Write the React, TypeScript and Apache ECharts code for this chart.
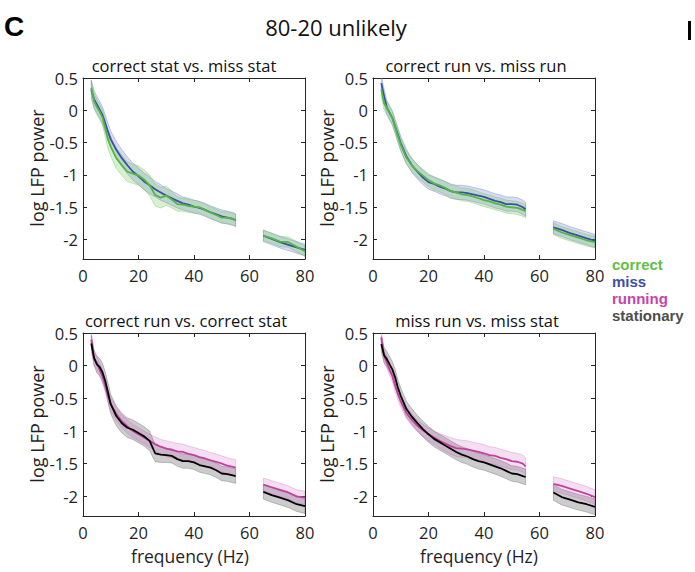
import React, { useEffect, useRef } from "react";
import * as echarts from "echarts";

// ---------- data ----------
const FREQ = [3,4,5,6,7,8,9,10,12,14,16,18,20,22,24,26,28,30,32,34,36,38,40,42,44,46,48,50,52,54,55, 65,68,71,74,77,80];
const X_TICKS = [0, 20, 40, 60, 80];
const Y_TICKS = [-2, -1.5, -1, -0.5, 0, 0.5];

// top-left: correct stat vs. miss stat
const TL_MISS = [0.32,0.17,0.09,0.01,-0.07,-0.2,-0.33,-0.45,-0.61,-0.74,-0.85,-0.95,-1.02,-1.10,-1.16,-1.22,-1.27,-1.32,-1.36,-1.40,-1.44,-1.46,-1.49,-1.51,-1.54,-1.58,-1.61,-1.64,-1.66,-1.68,-1.70, -1.94,-1.99,-2.04,-2.08,-2.12,-2.16];
const TL_MISS_SEM = [0.14,0.13,0.13,0.13,0.13,0.13,0.13,0.13,0.13,0.13,0.13,0.13,0.13,0.13,0.13,0.12,0.12,0.11,0.11,0.11,0.10,0.10,0.10,0.10,0.10,0.10,0.10,0.10,0.10,0.10,0.10, 0.09,0.09,0.09,0.09,0.09,0.09];
const TL_CORRECT = [0.35,0.14,0.05,-0.02,-0.11,-0.27,-0.45,-0.56,-0.74,-0.85,-0.95,-0.98,-1.01,-1.07,-1.16,-1.31,-1.35,-1.32,-1.38,-1.45,-1.46,-1.48,-1.49,-1.50,-1.54,-1.58,-1.62,-1.66,-1.66,-1.68,-1.70, -1.94,-1.98,-2.03,-2.04,-2.11,-2.18];
const TL_CORRECT_SEM = [0.12,0.12,0.12,0.12,0.12,0.13,0.14,0.15,0.16,0.16,0.15,0.15,0.15,0.15,0.16,0.17,0.16,0.15,0.13,0.11,0.10,0.10,0.10,0.09,0.09,0.09,0.09,0.09,0.09,0.09,0.09, 0.08,0.08,0.08,0.08,0.08,0.08];

// top-right: correct run vs. miss run
const TR_MISS = [0.42,0.22,0.04,-0.04,-0.12,-0.25,-0.38,-0.51,-0.71,-0.85,-0.95,-1.04,-1.11,-1.14,-1.18,-1.21,-1.25,-1.27,-1.27,-1.28,-1.30,-1.32,-1.34,-1.37,-1.40,-1.42,-1.45,-1.45,-1.46,-1.50,-1.53, -1.81,-1.85,-1.90,-1.94,-1.98,-2.02];
const TR_MISS_SEM = [0.11,0.11,0.11,0.11,0.11,0.11,0.11,0.11,0.11,0.11,0.11,0.11,0.11,0.11,0.11,0.11,0.11,0.11,0.11,0.11,0.11,0.11,0.11,0.11,0.11,0.11,0.11,0.11,0.11,0.11,0.11, 0.10,0.10,0.10,0.10,0.10,0.10];
const TR_CORRECT = [0.32,0.11,0.04,-0.04,-0.12,-0.26,-0.40,-0.53,-0.73,-0.85,-0.94,-1.01,-1.08,-1.13,-1.16,-1.20,-1.25,-1.27,-1.30,-1.31,-1.33,-1.36,-1.39,-1.41,-1.44,-1.46,-1.49,-1.50,-1.51,-1.54,-1.56, -1.83,-1.89,-1.93,-1.97,-2.01,-2.04];
const TR_CORRECT_SEM = [0.10,0.10,0.10,0.10,0.10,0.10,0.10,0.10,0.10,0.10,0.10,0.10,0.10,0.10,0.10,0.10,0.10,0.10,0.10,0.10,0.10,0.10,0.10,0.10,0.10,0.10,0.10,0.10,0.10,0.10,0.10, 0.09,0.09,0.09,0.09,0.09,0.09];

// bottom-left: correct run vs. correct stat
const BL_STAT = [0.34,0.12,0.02,-0.02,-0.10,-0.23,-0.41,-0.59,-0.77,-0.88,-0.95,-0.98,-1.03,-1.08,-1.15,-1.34,-1.36,-1.37,-1.38,-1.43,-1.46,-1.46,-1.48,-1.52,-1.54,-1.56,-1.60,-1.65,-1.66,-1.68,-1.69, -1.93,-1.98,-2.02,-2.06,-2.12,-2.15];
const BL_STAT_SEM = [0.12,0.12,0.13,0.13,0.14,0.14,0.15,0.15,0.15,0.15,0.15,0.15,0.15,0.15,0.15,0.13,0.12,0.11,0.11,0.11,0.11,0.11,0.11,0.11,0.11,0.11,0.11,0.11,0.11,0.11,0.11, 0.11,0.11,0.11,0.11,0.11,0.11];
const BL_RUN = [0.40,0.10,0.04,-0.06,-0.16,-0.30,-0.46,-0.59,-0.74,-0.85,-0.93,-1.00,-1.05,-1.10,-1.15,-1.20,-1.24,-1.27,-1.29,-1.31,-1.32,-1.35,-1.37,-1.40,-1.42,-1.45,-1.47,-1.50,-1.53,-1.55,-1.56, -1.82,-1.86,-1.90,-1.94,-2.00,-2.02];
const BL_RUN_SEM = [0.10,0.10,0.10,0.10,0.10,0.10,0.10,0.10,0.10,0.10,0.10,0.10,0.10,0.10,0.10,0.11,0.11,0.12,0.12,0.12,0.12,0.12,0.12,0.12,0.12,0.12,0.12,0.12,0.12,0.12,0.12, 0.10,0.10,0.10,0.10,0.10,0.10];

// bottom-right: miss run vs. miss stat
const BR_STAT = [0.33,0.16,0.10,0.02,-0.06,-0.18,-0.34,-0.46,-0.66,-0.78,-0.88,-0.97,-1.05,-1.12,-1.17,-1.22,-1.27,-1.32,-1.36,-1.39,-1.43,-1.46,-1.48,-1.51,-1.54,-1.57,-1.61,-1.65,-1.66,-1.69,-1.70, -1.94,-2.01,-2.05,-2.09,-2.12,-2.16];
const BR_STAT_SEM = [0.12,0.12,0.12,0.12,0.12,0.12,0.12,0.12,0.12,0.12,0.12,0.12,0.12,0.12,0.12,0.12,0.12,0.12,0.12,0.12,0.12,0.12,0.12,0.12,0.12,0.12,0.12,0.12,0.12,0.12,0.12, 0.12,0.12,0.12,0.12,0.12,0.12];
const BR_RUN = [0.43,0.15,0.05,-0.06,-0.16,-0.31,-0.44,-0.54,-0.72,-0.83,-0.92,-0.99,-1.05,-1.10,-1.15,-1.19,-1.23,-1.26,-1.27,-1.28,-1.30,-1.32,-1.34,-1.37,-1.38,-1.41,-1.43,-1.46,-1.47,-1.50,-1.54, -1.81,-1.84,-1.88,-1.92,-1.96,-2.01];
const BR_RUN_SEM = [0.09,0.09,0.09,0.09,0.09,0.09,0.09,0.09,0.09,0.09,0.09,0.09,0.10,0.10,0.11,0.12,0.13,0.13,0.13,0.13,0.13,0.13,0.13,0.13,0.13,0.13,0.13,0.13,0.13,0.13,0.13, 0.11,0.11,0.11,0.11,0.11,0.11];

const PANEL_TITLES = ["correct stat vs. miss stat", "correct run vs. miss run", "correct run vs. correct stat", "miss run vs. miss stat"];
const LEGEND_LABELS = ["correct", "miss", "running", "stationary"];

// ---------- styles ----------
const COL = {
  correct: { line: "#4fb83f", fill: "rgba(110,195,80,0.26)", edge: "rgba(110,195,80,0.55)" },
  miss: { line: "#3a4fa6", fill: "rgba(95,105,215,0.24)", edge: "rgba(95,105,215,0.5)" },
  running: { line: "#c2409f", fill: "rgba(200,95,190,0.2)", edge: "rgba(200,95,190,0.45)" },
  stationary: { line: "#000000", fill: "rgba(0,0,0,0.2)", edge: "rgba(0,0,0,0.3)" },
};
const LEGEND_COLORS = ["#62bf43", "#3c4fa8", "#c545a6", "#4d4d4d"];
const FONT = "Open Sans";
const TXT = "#1f1f1f";

const GRIDS = [
  { left: 83, top: 78, width: 222, height: 181 },
  { left: 373, top: 78, width: 222, height: 181 },
  { left: 83, top: 333, width: 222, height: 183 },
  { left: 373, top: 333, width: 222, height: 183 },
];

function segments(): number[][] {
  const segs: number[][] = [];
  let s = 0;
  for (let i = 0; i < FREQ.length - 1; i++) {
    if (FREQ[i + 1] - FREQ[i] > 5) { segs.push([s, i]); s = i + 1; }
  }
  segs.push([s, FREQ.length - 1]);
  return segs;
}
const SEGS = segments();

function lineData(mean: number[]) {
  const out: any[] = [];
  SEGS.forEach((seg, k) => {
    for (let i = seg[0]; i <= seg[1]; i++) out.push([FREQ[i], mean[i]]);
    if (k < SEGS.length - 1) out.push([(FREQ[seg[1]] + FREQ[seg[1] + 1]) / 2, "-"]);
  });
  return out;
}

function bandSeries(idx: number, mean: number[], sem: number[], c: any) {
  return {
    type: "custom",
    xAxisIndex: idx * 2,
    yAxisIndex: idx * 2,
    clip: true,
    silent: true,
    data: SEGS.map((s) => [FREQ[s[0]], mean[s[0]]]),
    renderItem: (params: any, api: any) => {
      const seg = SEGS[params.dataIndex];
      const up: number[][] = [];
      const lo: number[][] = [];
      for (let i = seg[0]; i <= seg[1]; i++) {
        up.push(api.coord([FREQ[i], mean[i] + sem[i]]));
        lo.push(api.coord([FREQ[i], mean[i] - sem[i]]));
      }
      return {
        type: "polygon",
        shape: { points: up.concat(lo.reverse()) },
        style: { fill: c.fill, stroke: c.edge, lineWidth: 0.7 },
      };
    },
  };
}

function lineSeries(idx: number, mean: number[], c: any) {
  return {
    type: "line",
    xAxisIndex: idx * 2,
    yAxisIndex: idx * 2,
    data: lineData(mean),
    showSymbol: false,
    connectNulls: false,
    lineStyle: { color: c.line, width: 1.8 },
    silent: true,
  };
}

export default function App() {
  const ref = useRef<HTMLDivElement>(null);
  useEffect(() => {
    if (!ref.current) return;
    const chart = echarts.init(ref.current, null, { renderer: "svg" });
    const xAxes: any[] = [];
    const yAxes: any[] = [];
    GRIDS.forEach((_, i) => {
      const common = {
        gridIndex: i,
        type: "value",
        splitLine: { show: false },
        axisLine: { show: true, onZero: false, lineStyle: { color: "#262626", width: 1 } },
      };
      xAxes.push({
        ...common, position: "bottom", min: 0, max: 80,
        axisTick: { show: true, inside: true, length: 4, customValues: X_TICKS, lineStyle: { color: "#262626" } },
        axisLabel: { show: true, customValues: X_TICKS, margin: 8, fontSize: 16.5, lineHeight: 16, color: TXT, fontFamily: FONT },
      });
      xAxes.push({
        ...common, position: "top", min: 0, max: 80,
        axisTick: { show: true, inside: true, length: 4, customValues: X_TICKS, lineStyle: { color: "#262626" } },
        axisLabel: { show: false },
      });
      yAxes.push({
        ...common, position: "left", min: -2.3, max: 0.5,
        axisTick: { show: true, inside: true, length: 4, customValues: Y_TICKS, lineStyle: { color: "#262626" } },
        axisLabel: { show: true, customValues: Y_TICKS, margin: 5, fontSize: 16.5, color: TXT, fontFamily: FONT },
      });
      yAxes.push({
        ...common, position: "right", min: -2.3, max: 0.5,
        axisTick: { show: true, inside: true, length: 4, customValues: Y_TICKS, lineStyle: { color: "#262626" } },
        axisLabel: { show: false },
      });
    });

    const series: any[] = [
      bandSeries(0, TL_MISS, TL_MISS_SEM, COL.miss),
      bandSeries(0, TL_CORRECT, TL_CORRECT_SEM, COL.correct),
      lineSeries(0, TL_MISS, COL.miss),
      lineSeries(0, TL_CORRECT, COL.correct),
      bandSeries(1, TR_MISS, TR_MISS_SEM, COL.miss),
      bandSeries(1, TR_CORRECT, TR_CORRECT_SEM, COL.correct),
      lineSeries(1, TR_MISS, COL.miss),
      lineSeries(1, TR_CORRECT, COL.correct),
      bandSeries(2, BL_STAT, BL_STAT_SEM, COL.stationary),
      bandSeries(2, BL_RUN, BL_RUN_SEM, COL.running),
      lineSeries(2, BL_RUN, COL.running),
      lineSeries(2, BL_STAT, COL.stationary),
      bandSeries(3, BR_STAT, BR_STAT_SEM, COL.stationary),
      bandSeries(3, BR_RUN, BR_RUN_SEM, COL.running),
      lineSeries(3, BR_RUN, COL.running),
      lineSeries(3, BR_STAT, COL.stationary),
    ];

    const titlePos = [[184, 65], [476, 65], [186, 320], [477, 320]];
    const ylabPos = [[37, 168], [327, 168], [37, 424], [327, 424]];
    const graphics: any[] = [
      { type: "text", left: 4, top: 12, style: { text: "C", font: "bold 28px 'Liberation Sans', Arial", fill: "#000" } },
      { type: "text", x: 336, y: 27, style: { text: "80-20 unlikely", fontSize: 22, fontFamily: FONT, fill: "#111", align: "center", verticalAlign: "middle" } },
      { type: "rect", shape: { x: 688, y: 21, width: 3, height: 19 }, style: { fill: "#000" } },
    ];
    PANEL_TITLES.forEach((t, i) => {
      graphics.push({ type: "text", x: titlePos[i][0], y: titlePos[i][1], style: { text: t, fontSize: 16.5, fontFamily: FONT, fill: "#111", align: "center", verticalAlign: "middle" } });
      graphics.push({ type: "text", x: ylabPos[i][0], y: ylabPos[i][1], rotation: Math.PI / 2, style: { text: "log LFP power", fontSize: 18, fontFamily: FONT, fill: TXT, align: "center", verticalAlign: "middle" } });
    });
    [[190, 556], [479, 556]].forEach((p) => {
      graphics.push({ type: "text", x: p[0], y: p[1], style: { text: "frequency (Hz)", fontSize: 17.5, lineHeight: 17, fontFamily: FONT, fill: TXT, align: "center", verticalAlign: "middle" } });
    });
    const legY = [264, 281, 298, 315];
    LEGEND_LABELS.forEach((t, i) => {
      graphics.push({ type: "text", x: 612, y: legY[i], style: { text: t, fontSize: 15, lineHeight: 15, fontWeight: "bold", fontFamily: "'Liberation Sans', Arial", fill: LEGEND_COLORS[i], align: "left", verticalAlign: "middle" } });
    });

    chart.setOption({
      animation: false,
      backgroundColor: "#ffffff",
      grid: GRIDS.map((g) => ({ ...g, containLabel: false, show: false })),
      xAxis: xAxes,
      yAxis: yAxes,
      series,
      graphic: graphics,
    });
    return () => chart.dispose();
  }, []);
  return (
    <div
      ref={ref}
      style={{ position: "fixed", left: 0, top: 0, width: 695, height: 572, background: "#fff" }}
    />
  );
}
